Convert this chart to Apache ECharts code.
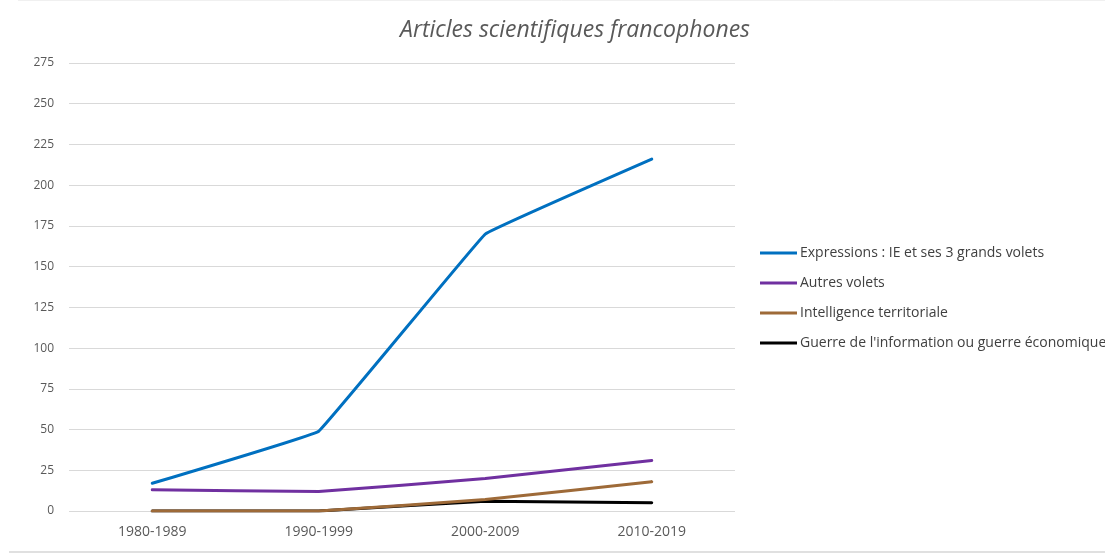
<!DOCTYPE html>
<html>
<head>
<meta charset="utf-8">
<script src="https://cdn.jsdelivr.net/npm/echarts@6/dist/echarts.min.js"></script>
<style>
  html, body { margin: 0; padding: 0; background: #fff; }
  #chart { width: 1105px; height: 555px; }
</style>
</head>
<body>
<div id="chart"></div>
<script>
// catégories (décennies)
var decennies = ['1980-1989', '1990-1999', '2000-2009', '2010-2019'];
// séries
var expressions = [17, 49, 170, 216];
var autresVolets = [13, 12, 20, 31];
var intelTerritoriale = [0, 0, 7, 18];
var guerreInfo = [0, 0, 6, 5];

var noms = [
  'Expressions : IE et ses 3 grands volets',
  'Autres volets',
  'Intelligence territoriale',
  "Guerre de l'information ou guerre économique"
];
var couleurs = ['#0070C0', '#7030A0', '#9E6A38', '#000000'];
var valeurs = [expressions, autresVolets, intelTerritoriale, guerreInfo];

var series = [];
for (var i = 0; i < valeurs.length; i++) {
  series.push({
    name: noms[i],
    type: 'line',
    data: valeurs[i],
    smooth: 0.04,
    showSymbol: false,
    symbol: 'none',
    lineStyle: { width: 3, color: couleurs[i], cap: 'round' },
    itemStyle: { color: couleurs[i] },
    z: 10 - i
  });
}

var option = {
  backgroundColor: '#fff',
  animation: false,
  textStyle: { fontFamily: 'Open Sans, DejaVu Sans, sans-serif' },
  title: {
    text: 'Articles scientifiques francophones',
    left: 570,
    textAlign: 'center',
    top: 14,
    textStyle: { fontSize: 23, fontStyle: 'italic', fontWeight: 'normal', color: '#595959' }
  },
  legend: {
    orient: 'vertical',
    left: 755,
    top: 241,
    itemWidth: 37,
    itemHeight: 3,
    itemGap: 16,
    icon: 'rect',
    textStyle: { fontSize: 14, color: '#404040', padding: [0, 0, 0, -2] },
    data: noms
  },
  grid: { left: 69, top: 63, width: 666, height: 448, containLabel: false },
  xAxis: {
    type: 'category',
    data: decennies,
    boundaryGap: true,
    axisLine: { show: false },
    axisTick: { show: false },
    axisLabel: { color: '#595959', fontSize: 14, margin: 14 }
  },
  yAxis: {
    type: 'value',
    min: 0,
    max: 275,
    interval: 25,
    axisLine: { show: false },
    axisTick: { show: false },
    axisLabel: { color: '#595959', fontSize: 12, margin: 15 },
    splitLine: { lineStyle: { color: '#d9d9d9', width: 1 } }
  },
  graphic: [
    { type: 'line', shape: { x1: 9, y1: 552, x2: 1105, y2: 552 }, style: { stroke: '#e0e0e0', lineWidth: 2 } },
    { type: 'line', shape: { x1: 18, y1: 0.5, x2: 1105, y2: 0.5 }, style: { stroke: '#f0f0f0', lineWidth: 1 } }
  ],
  series: series
};

var myChart = echarts.init(document.getElementById('chart'));
myChart.setOption(option);
</script>
</body>
</html>
